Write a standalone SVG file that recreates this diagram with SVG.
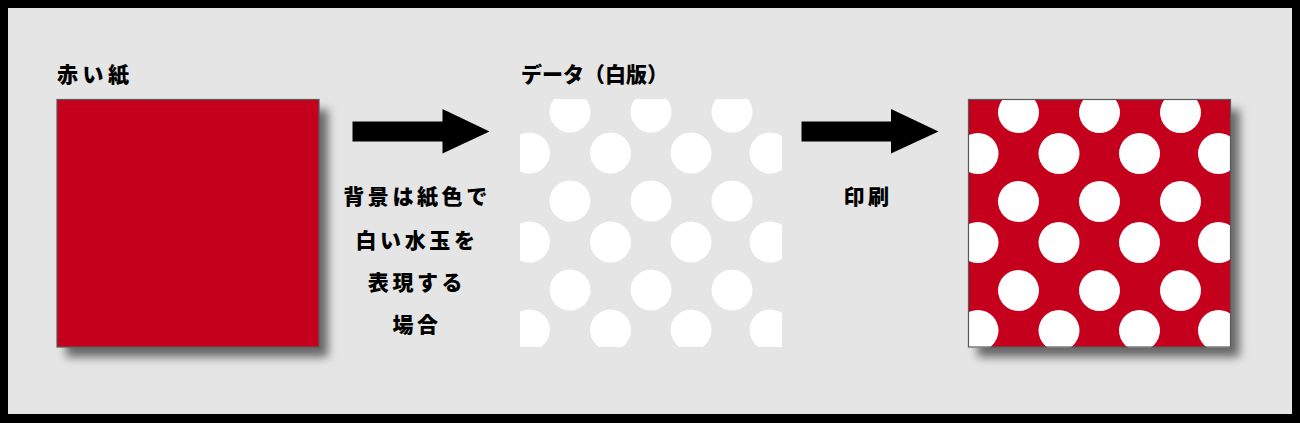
<svg xmlns="http://www.w3.org/2000/svg" xmlns:xlink="http://www.w3.org/1999/xlink" width="1300" height="423" viewBox="0 0 1300 423">
<style>
  .lbl { font-family: "Noto Sans CJK JP", "Noto Sans", sans-serif; font-weight: 900; font-size: 21px; fill: #000; }
  .ctr { text-anchor: middle; }
  .paper { fill: #c4001a; }
  .edge { fill: none; stroke: #5a5a5a; stroke-width: 1.2; }
  .dot { fill: #fff; }
  .arrow { fill: #000; }
</style>
<defs>
  <filter id="shadow" x="-10%" y="-10%" width="130%" height="130%">
    <feDropShadow dx="9" dy="10" stdDeviation="5" flood-color="#000" flood-opacity="0.55"/>
  </filter>
  <clipPath id="clipBox"><rect x="0" y="0" width="262" height="248"/></clipPath>
  <g id="dots">
    <g clip-path="url(#clipBox)">
      <circle class="dot" cx="50" cy="13" r="20.5"/>
      <circle class="dot" cx="131" cy="13" r="20.5"/>
      <circle class="dot" cx="212" cy="13" r="20.5"/>
      <circle class="dot" cx="9.5" cy="54" r="20.5"/>
      <circle class="dot" cx="90.5" cy="54" r="20.5"/>
      <circle class="dot" cx="171" cy="54" r="20.5"/>
      <circle class="dot" cx="250" cy="54" r="20.5"/>
      <circle class="dot" cx="50" cy="102" r="20.5"/>
      <circle class="dot" cx="131" cy="102" r="20.5"/>
      <circle class="dot" cx="212" cy="102" r="20.5"/>
      <circle class="dot" cx="9.5" cy="143" r="20.5"/>
      <circle class="dot" cx="90.5" cy="143" r="20.5"/>
      <circle class="dot" cx="171" cy="143" r="20.5"/>
      <circle class="dot" cx="250" cy="143" r="20.5"/>
      <circle class="dot" cx="50" cy="191" r="20.5"/>
      <circle class="dot" cx="131" cy="191" r="20.5"/>
      <circle class="dot" cx="212" cy="191" r="20.5"/>
      <circle class="dot" cx="9.5" cy="231" r="20.5"/>
      <circle class="dot" cx="90.5" cy="231" r="20.5"/>
      <circle class="dot" cx="171" cy="231" r="20.5"/>
      <circle class="dot" cx="250" cy="231" r="20.5"/>
    </g>
  </g>
</defs>

<rect x="0" y="0" width="1300" height="423" fill="#000"/>
<rect x="8" y="8" width="1284" height="406" fill="#e5e5e5"/>

<g id="red-paper">
  <text class="lbl" x="57" y="82" letter-spacing="4.5">赤い紙</text>
  <rect class="paper" x="57" y="99.5" width="262" height="247.5" filter="url(#shadow)"/>
  <rect class="edge" x="57" y="99.5" width="262" height="247.5"/>
</g>

<g id="data-white-plate">
  <text class="lbl" x="521" y="82">データ（白版）</text>
  <use xlink:href="#dots" href="#dots" x="520" y="99"/>
</g>

<g id="printed">
  <rect class="paper" x="968.5" y="99.5" width="262" height="247.5" filter="url(#shadow)"/>
  <use xlink:href="#dots" href="#dots" x="968.5" y="99.5"/>
  <rect class="edge" x="968.5" y="99.5" width="262" height="247.5"/>
</g>

<g id="connectors">
  <g id="arrow-1">
    <polygon class="arrow" points="352.5,121.5 442.5,121.5 442.5,109 489.5,131.5 442.5,153.5 442.5,141.5 352.5,141.5"/>
    <text class="lbl ctr" x="417" y="204" letter-spacing="3.6">背景は紙色で</text>
    <text class="lbl ctr" x="417" y="248" letter-spacing="3.6">白い水玉を</text>
    <text class="lbl ctr" x="417" y="290" letter-spacing="3.6">表現する</text>
    <text class="lbl ctr" x="417" y="332" letter-spacing="3.6">場合</text>
  </g>
  <g id="arrow-2">
    <polygon class="arrow" points="801.5,121.5 891,121.5 891,109 938.5,131.5 891,153.5 891,141.5 801.5,141.5"/>
    <text class="lbl ctr" x="868" y="204" letter-spacing="3.6">印刷</text>
  </g>
</g>
</svg>
